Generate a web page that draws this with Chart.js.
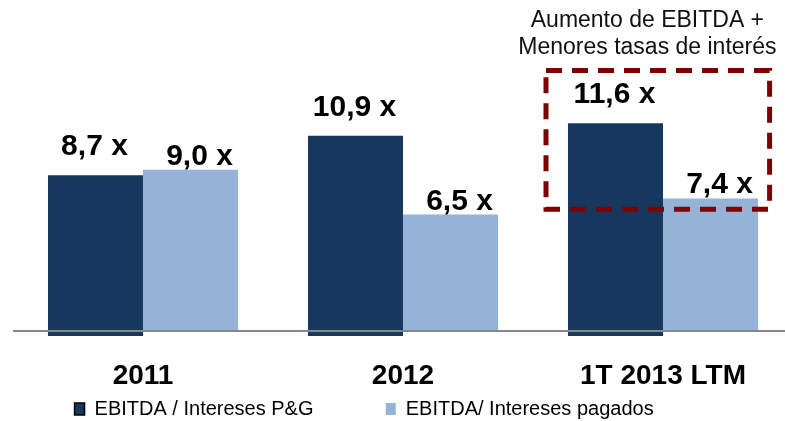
<!DOCTYPE html>
<html>
<head>
<meta charset="utf-8">
<script src="https://cdn.jsdelivr.net/npm/chart.js@4.4.1/dist/chart.umd.min.js"></script>
<style>
    html, body { margin:0; padding:0; background:#fff; overflow:hidden; }
    #wrap { width:793px; height:429px; }
</style>
</head>
<body>
<div id="wrap"><canvas id="coberturaChart"></canvas></div>
<script>

// =============================
// DATOS DEL GRÁFICO
// =============================

const periodos = ["2011", "2012", "1T 2013 LTM"]
const interesesPyG = [8.7, 10.9, 11.6]
const interesesPagados = [9.0, 6.5, 7.4]
const nombresSeries = ["EBITDA / Intereses P&G", "EBITDA/ Intereses pagados"]
const notaTexto = ["Aumento de EBITDA +", "Menores tasas de interés"]

const FUENTE = '"Liberation Sans", Arial, sans-serif'


function formato(v){
    return v.toFixed(1).replace(".", ",") + " x"
}


// =============================
// ETIQUETAS DE VALOR SOBRE LAS BARRAS
// =============================

const etiquetasPlugin = {
    id: "etiquetas",
    afterDatasetsDraw(chart){
        const ctx = chart.ctx
        chart.data.datasets.forEach((ds, i) => {
            const meta = chart.getDatasetMeta(i)
            meta.data.forEach((bar, j) => {
                ctx.save()
                ctx.font = "bold 30px " + FUENTE
                ctx.fillStyle = "#000"
                ctx.textAlign = "center"
                ctx.textBaseline = "alphabetic"
                ctx.fillText(formato(ds.data[j]), bar.x + ds.labelDx, bar.y - ds.labelGap)
                ctx.restore()
            })
        })
    }
}


// =============================
// RECUADRO DISCONTINUO + NOTA
// =============================

const recuadroPlugin = {
    id: "recuadro",
    afterDraw(chart, args, opts){
        const ctx = chart.ctx
        const x = chart.scales.x
        const y = chart.scales.y

        const x1 = x.getPixelForValue(opts.xDesde)
        const x2 = x.getPixelForValue(opts.xHasta)
        const y1 = y.getPixelForValue(opts.yHasta)
        const y2 = y.getPixelForValue(opts.yDesde)

        ctx.save()
        ctx.strokeStyle = "#7F0000"
        ctx.lineWidth = 5
        ctx.setLineDash([16, 10])
        ctx.strokeRect(x1, y1, x2 - x1, y2 - y1)
        ctx.setLineDash([])

        ctx.font = "23px " + FUENTE
        ctx.fillStyle = "#111"
        ctx.textAlign = "center"
        ctx.textBaseline = "middle"
        const tx = x.getPixelForValue(opts.xTexto)
        ctx.fillText(notaTexto[0], tx, y1 - 50)
        ctx.fillText(notaTexto[1], tx, y1 - 23)
        ctx.restore()
    }
}


// =============================
// CREACIÓN DEL GRÁFICO
// =============================

const canvas = document.getElementById("coberturaChart")

new Chart(canvas.getContext("2d"), {

    type: "bar",

    data: {
        labels: periodos,
        datasets: [
            {
                label: nombresSeries[0] + " ".repeat(13),
                data: interesesPyG,
                backgroundColor: "#17375E",
                base: -0.28,
                labelDx: -1,
                labelGap: 20
            },
            {
                label: nombresSeries[1] + " ".repeat(14),
                data: interesesPagados,
                backgroundColor: "#95B3D7",
                base: 0,
                labelDx: 9,
                labelGap: 5
            }
        ]
    },

    options: {
        responsive: true,
        maintainAspectRatio: false,
        animation: false,
        layout: {
            padding: { left: 13, right: 0, top: 0, bottom: 0 }
        },
        datasets: {
            bar: {
                categoryPercentage: 0.731,
                barPercentage: 1
            }
        },
        scales: {
            x: {
                grid: {
                    display: true,
                    drawOnChartArea: false,
                    drawTicks: true,
                    tickLength: 17,
                    color: "rgba(0,0,0,0)"
                },
                border: { display: false },
                ticks: {
                    padding: 9,
                    color: "#000",
                    font: { family: FUENTE, size: 28, weight: "bold", lineHeight: 1 }
                }
            },
            y: {
                min: -0.28,
                max: 18.48,
                afterBuildTicks: s => { s.ticks = [{ value: 0 }] },
                ticks: { display: false },
                border: { display: false },
                grid: {
                    color: "#868686",
                    lineWidth: 2,
                    drawTicks: false,
                    z: 1
                }
            }
        },
        plugins: {
            tooltip: { enabled: false },
            legend: {
                position: "bottom",
                labels: {
                    color: "#000",
                    padding: 0,
                    boxWidth: 10,
                    boxHeight: 12,
                    font: { family: FUENTE, size: 20 },
                    generateLabels(chart){
                        const items = Chart.defaults.plugins.legend.labels.generateLabels(chart)
                        items.forEach((it, i) => {
                            it.lineWidth = i === 0 ? 1.5 : 0
                            it.strokeStyle = "#000"
                        })
                        return items
                    }
                }
            },
            recuadro: {
                xDesde: 1.55,
                xHasta: 2.41,
                yDesde: 6.8,
                yHasta: 14.55,
                xTexto: 1.94
            }
        }
    },

    plugins: [etiquetasPlugin, recuadroPlugin]

})
</script>
</body>
</html>
